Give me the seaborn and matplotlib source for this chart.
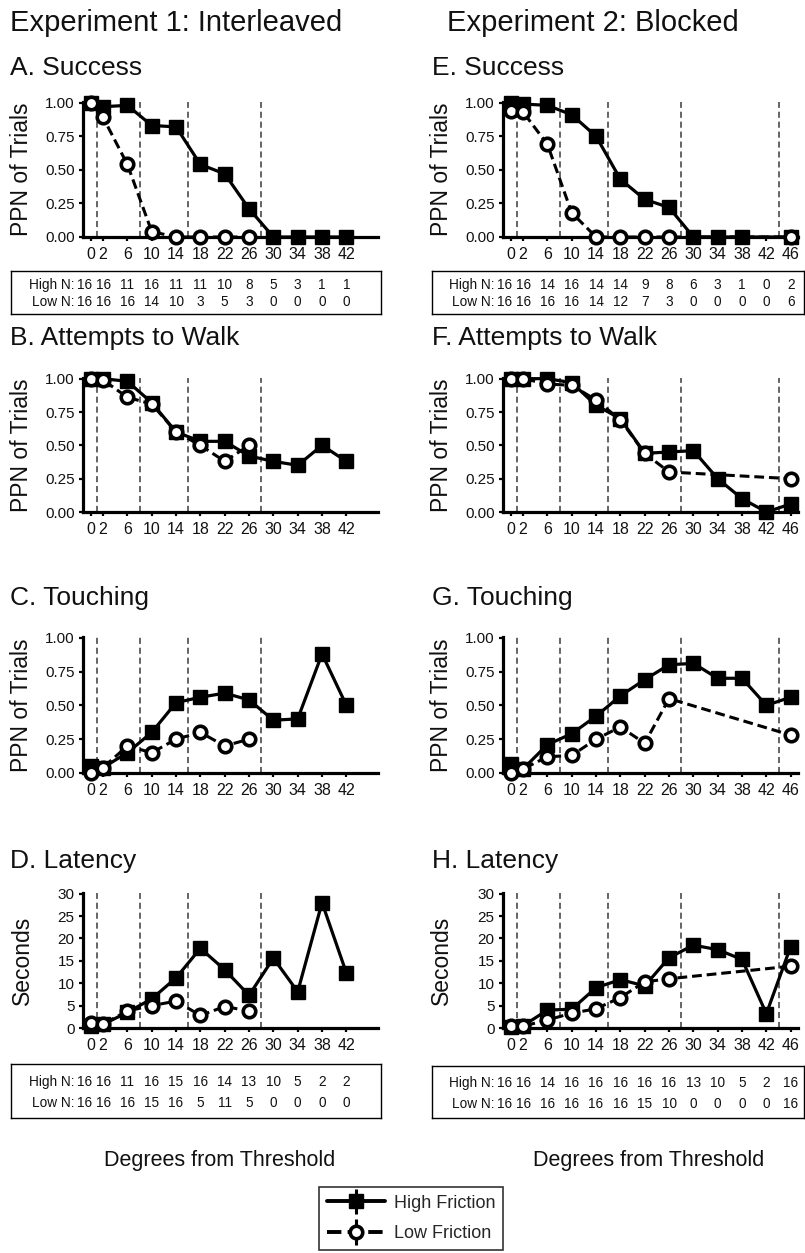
import numpy as np
import pandas as pd
import matplotlib
matplotlib.use("Agg")
import matplotlib.pyplot as plt
import seaborn as sns
from matplotlib.ticker import FormatStrFormatter
from matplotlib.transforms import blended_transform_factory
from matplotlib.legend_handler import HandlerErrorbar
from matplotlib.container import ErrorbarContainer

sns.set_theme(style="white")
plt.rcParams["font.family"] = ["Liberation Sans", "DejaVu Sans"]

nan = np.nan

# ---------------- data ----------------
deg_exp1 = [0, 2, 6, 10, 14, 18, 22, 26, 30, 34, 38, 42]
deg_exp2 = [0, 2, 6, 10, 14, 18, 22, 26, 30, 34, 38, 42, 46]
xticklabels_exp1 = ["0", "2", "6", "10", "14", "18", "22", "26", "30", "34", "38", "42"]
xticklabels_exp2 = ["0", "2", "6", "10", "14", "18", "22", "26", "30", "34", "38", "42", "46"]

boundaries_exp1 = [1, 8, 16, 28]
boundaries_exp2 = [1, 8, 16, 28, 44]

# Experiment 1 (interleaved)
success_e1_high = [1.00, 0.97, 0.98, 0.83, 0.82, 0.54, 0.47, 0.21, 0.0, 0.0, 0.0, 0.0]
success_e1_low = [1.00, 0.89, 0.54, 0.04, 0.0, 0.0, 0.0, 0.0, nan, nan, nan, nan]
walk_e1_high = [1.00, 1.00, 0.98, 0.82, 0.60, 0.53, 0.53, 0.42, 0.38, 0.35, 0.50, 0.38]
walk_e1_low = [1.00, 0.99, 0.86, 0.81, 0.60, 0.50, 0.38, 0.50, nan, nan, nan, nan]
touch_e1_high = [0.05, 0.04, 0.15, 0.30, 0.52, 0.56, 0.59, 0.54, 0.39, 0.40, 0.88, 0.50]
touch_e1_low = [0.00, 0.04, 0.20, 0.15, 0.25, 0.30, 0.20, 0.25, nan, nan, nan, nan]
latency_e1_high = [0.5, 0.8, 3.5, 6.5, 11.2, 17.8, 13.0, 7.3, 15.6, 8.1, 28.0, 12.3]
latency_e1_low = [1.2, 0.9, 3.8, 5.0, 6.0, 2.8, 4.8, 3.8, nan, nan, nan, nan]

# Experiment 2 (blocked)
success_e2_high = [1.00, 0.99, 0.98, 0.91, 0.75, 0.43, 0.28, 0.22, 0.0, 0.0, 0.0, nan, 0.0]
success_e2_low = [0.94, 0.93, 0.69, 0.18, 0.0, 0.0, 0.0, 0.0, nan, nan, nan, nan, 0.0]
walk_e2_high = [1.00, 1.00, 1.00, 0.97, 0.80, 0.70, 0.44, 0.45, 0.46, 0.25, 0.10, 0.0, 0.06]
walk_e2_low = [1.00, 1.00, 0.96, 0.95, 0.84, 0.69, 0.44, 0.30, nan, nan, nan, nan, 0.25]
touch_e2_high = [0.07, 0.03, 0.21, 0.29, 0.42, 0.57, 0.69, 0.80, 0.81, 0.70, 0.70, 0.50, 0.56]
touch_e2_low = [0.00, 0.03, 0.12, 0.13, 0.25, 0.34, 0.22, 0.55, nan, nan, nan, nan, 0.28]
latency_e2_high = [0.3, 0.5, 4.0, 4.2, 9.0, 10.8, 9.4, 15.7, 18.5, 17.5, 15.3, 3.2, 18.2]
latency_e2_low = [0.4, 0.4, 1.8, 3.3, 4.3, 6.8, 10.3, 11.0, nan, nan, nan, nan, 13.8]

# Trial counts
n_success_e1_high = [16, 16, 11, 16, 11, 11, 10, 8, 5, 3, 1, 1]
n_success_e1_low = [16, 16, 16, 14, 10, 3, 5, 3, 0, 0, 0, 0]
n_latency_e1_high = [16, 16, 11, 16, 15, 16, 14, 13, 10, 5, 2, 2]
n_latency_e1_low = [16, 16, 16, 15, 16, 5, 11, 5, 0, 0, 0, 0]
n_success_e2_high = [16, 16, 14, 16, 14, 14, 9, 8, 6, 3, 1, 0, 2]
n_success_e2_low = [16, 16, 16, 16, 14, 12, 7, 3, 0, 0, 0, 0, 6]
n_latency_e2_high = [16, 16, 14, 16, 16, 16, 16, 16, 13, 10, 5, 2, 16]
n_latency_e2_low = [16, 16, 16, 16, 16, 16, 15, 10, 0, 0, 0, 0, 16]

# ---------------- layout helpers ----------------
W, H = 805, 1253
fig = plt.figure(figsize=(W / 100, H / 100), dpi=100)


def rect(l, t, r, b):
    return [l / W, 1 - b / H, (r - l) / W, (b - t) / H]


def fy(py):
    return 1 - py / H


cols = [(83, 378), (503, 798)]
rows = [(102, 237), (378, 512), (637, 773), (893, 1028)]
title_base = [75, 345, 605, 868]
title_x = [10, 432]
ylabel_x = [22, 441]

panels = [
    (0, 0, "A. Success", "PPN of Trials", deg_exp1, success_e1_high, success_e1_low, 1.0,
     [0, 0.25, 0.5, 0.75, 1.0], "%.2f", xticklabels_exp1, boundaries_exp1),
    (0, 1, "B. Attempts to Walk", "PPN of Trials", deg_exp1, walk_e1_high, walk_e1_low, 1.0,
     [0, 0.25, 0.5, 0.75, 1.0], "%.2f", xticklabels_exp1, boundaries_exp1),
    (0, 2, "C. Touching", "PPN of Trials", deg_exp1, touch_e1_high, touch_e1_low, 1.0,
     [0, 0.25, 0.5, 0.75, 1.0], "%.2f", xticklabels_exp1, boundaries_exp1),
    (0, 3, "D. Latency", "Seconds", deg_exp1, latency_e1_high, latency_e1_low, 30,
     [0, 5, 10, 15, 20, 25, 30], "%d", xticklabels_exp1, boundaries_exp1),
    (1, 0, "E. Success", "PPN of Trials", deg_exp2, success_e2_high, success_e2_low, 1.0,
     [0, 0.25, 0.5, 0.75, 1.0], "%.2f", xticklabels_exp2, boundaries_exp2),
    (1, 1, "F. Attempts to Walk", "PPN of Trials", deg_exp2, walk_e2_high, walk_e2_low, 1.0,
     [0, 0.25, 0.5, 0.75, 1.0], "%.2f", xticklabels_exp2, boundaries_exp2),
    (1, 2, "G. Touching", "PPN of Trials", deg_exp2, touch_e2_high, touch_e2_low, 1.0,
     [0, 0.25, 0.5, 0.75, 1.0], "%.2f", xticklabels_exp2, boundaries_exp2),
    (1, 3, "H. Latency", "Seconds", deg_exp2, latency_e2_high, latency_e2_low, 30,
     [0, 5, 10, 15, 20, 25, 30], "%d", xticklabels_exp2, boundaries_exp2),
]

high_style = dict(color="black", linewidth=2.3, marker="s", markersize=10,
                  markerfacecolor="black", markeredgecolor="black", markeredgewidth=1,
                  clip_on=False, zorder=3)
low_style = dict(color="black", linewidth=2.2, linestyle=(0, (3.2, 1.6)), marker="o", markersize=9,
                 markerfacecolor="white", markeredgecolor="black", markeredgewidth=2.6,
                 clip_on=False, zorder=4)

axes = {}
for col, row, title, ylabel, x, high, low, ymax, yticks, fmt, labels, bounds in panels:
    l, r = cols[col]
    t, b = rows[row]
    ax = fig.add_axes(rect(l, t, r, b))
    axes[(col, row)] = ax
    for bx in bounds:
        ax.axvline(bx, color="#3a3a3a", linewidth=1.1, linestyle=(0, (4, 2.5)), zorder=1)
    df = pd.DataFrame({"deg": list(x) * 2,
                       "value": list(high) + list(low),
                       "friction": ["High"] * len(x) + ["Low"] * len(x)}).dropna()
    sns.lineplot(data=df[df["friction"] == "High"], x="deg", y="value", ax=ax,
                 errorbar=None, legend=False, **high_style)
    sns.lineplot(data=df[df["friction"] == "Low"], x="deg", y="value", ax=ax,
                 errorbar=None, legend=False, **low_style)
    ax.set_xlim(-1.3, 47.2)
    ax.set_ylim(0, ymax * 1.005)
    ax.set_xticks(x)
    ax.set_xticklabels(labels)
    ax.set_yticks(yticks)
    ax.yaxis.set_major_formatter(FormatStrFormatter(fmt))
    ax.set_xlabel("")
    ax.set_ylabel("")
    sns.despine(ax=ax)
    for s in ("left", "bottom"):
        ax.spines[s].set_linewidth(2.3)
        ax.spines[s].set_color("black")
    ax.tick_params(axis="both", which="major", bottom=True, left=True, direction="out",
                   length=3, width=1.6, color="black", labelsize=11, pad=3,
                   labelcolor="#111111")
    ax.tick_params(axis="x", labelsize=11.5, pad=4)
    ax.patch.set_alpha(0)
    fig.text(title_x[col] / W, fy(title_base[row]), title, fontsize=19, ha="left",
             va="baseline", color="#111111")
    fig.text(ylabel_x[col] / W, fy((t + b) / 2), ylabel, fontsize=16.5, rotation=90,
             ha="center", va="center", color="#111111")

# ---------------- count tables ----------------
tables = [
    (0, 0, (11, 271, 381, 314), deg_exp1, n_success_e1_high, n_success_e1_low),
    (1, 0, (432, 271, 804, 314), deg_exp2, n_success_e2_high, n_success_e2_low),
    (0, 3, (11, 1064, 381, 1118), deg_exp1, n_latency_e1_high, n_latency_e1_low),
    (1, 3, (432, 1066, 804, 1118), deg_exp2, n_latency_e2_high, n_latency_e2_low),
]
for col, row, (l, t, r, b), x, nh, nl in tables:
    tab = fig.add_axes(rect(l, t, r, b))
    tab.set_xticks([])
    tab.set_yticks([])
    for s in tab.spines.values():
        s.set_visible(True)
        s.set_linewidth(1.0)
        s.set_color("black")
    tab.patch.set_alpha(0)
    main = axes[(col, row)]
    trans = blended_transform_factory(main.transData, tab.transAxes)
    pos = list(x)
    pos[0] = pos[0] - 1.1
    for yfrac, lab, vals in ((0.67, "High N:", nh), (0.27, "Low N:", nl)):
        tab.text(pos[0] - 1.6, yfrac, lab, transform=trans, ha="right", va="center",
                 fontsize=9.8, color="#111111")
        for px_, v in zip(pos, vals):
            tab.text(px_, yfrac, str(v), transform=trans, ha="center", va="center",
                     fontsize=9.8, color="#111111")

# ---------------- headers & axis captions ----------------
fig.text(10 / W, fy(31), "Experiment 1: Interleaved", fontsize=21, ha="left",
         va="baseline", color="#111111")
fig.text(447 / W, fy(31), "Experiment 2: Blocked", fontsize=21, ha="left",
         va="baseline", color="#111111")
fig.text(220 / W, fy(1166), "Degrees from Threshold", fontsize=15.5, ha="center",
         va="baseline", color="#111111")
fig.text(649 / W, fy(1166), "Degrees from Threshold", fontsize=15.5, ha="center",
         va="baseline", color="#111111")

# ---------------- legend ----------------
lax = axes[(1, 3)]
eb_high = lax.errorbar([], [], yerr=[], fmt="s-", color="black", markersize=10, linewidth=2.8,
                       elinewidth=2.2, capsize=4, capthick=2.2)
eb_low = lax.errorbar([], [], yerr=[], fmt="o--", color="black", markersize=9,
                      markerfacecolor="white", markeredgecolor="black", markeredgewidth=2.6,
                      linewidth=2.8, elinewidth=2.2, capsize=4, capthick=2.2)
leg = fig.legend(handles=[eb_high, eb_low], labels=["High Friction", "Low Friction"],
                 loc="center", bbox_to_anchor=(411 / W, fy(1218.5)), fontsize=13,
                 frameon=True, fancybox=False, edgecolor="black", handlelength=3.2,
                 labelspacing=0.75, borderpad=0.45, handletextpad=0.5,
                 handler_map={ErrorbarContainer: HandlerErrorbar(xerr_size=0.5, yerr_size=0.7)})
leg.get_frame().set_linewidth(1.2)

fig.savefig("out.png", dpi=100)
